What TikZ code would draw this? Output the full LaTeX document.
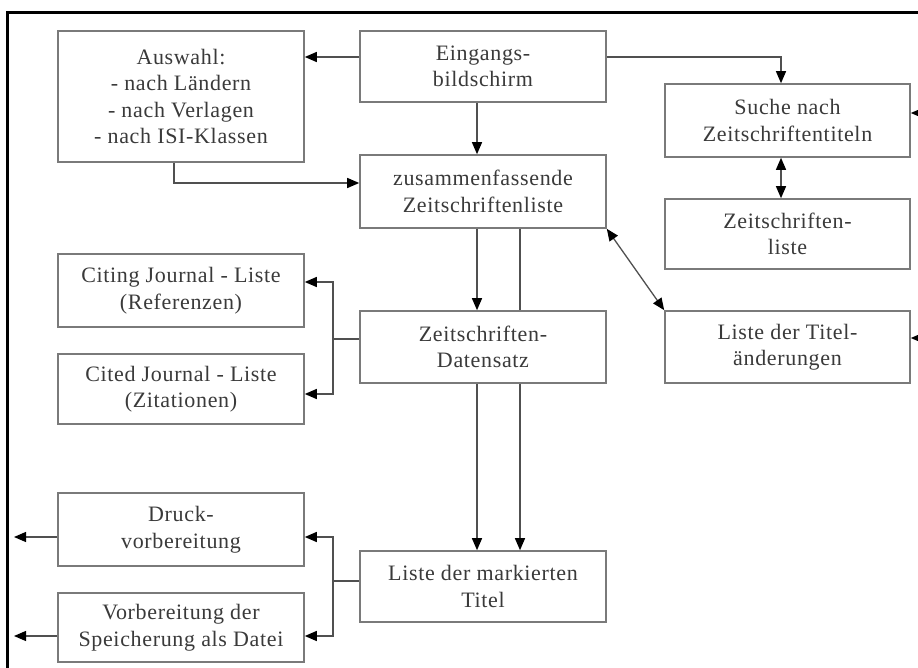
\documentclass[tikz,border=0pt]{standalone}
\usepackage{fontspec}
\setmainfont[LetterSpace=3]{Liberation Serif}
\usetikzlibrary{arrows.meta}
\definecolor{boxc}{HTML}{7A7A7A}
\definecolor{linec}{HTML}{505050}
\definecolor{txtc}{HTML}{3A3A3A}
\begin{document}
\begin{tikzpicture}[x=1pt,y=-1pt,
 box/.style={draw=boxc, line width=1.6pt, fill=white, rectangle, align=center,
   text=txtc, font=\fontsize{22}{26.5}\selectfont, inner sep=0pt},
 sz/.style 2 args={minimum width=#1pt, minimum height=#2pt},
 conn/.style={draw=linec, line width=1.3pt},
 arr/.style={conn, -{Triangle[length=12pt,width=10pt,color=black]}},
 darr/.style={conn, {Triangle[length=12pt,width=10pt,color=black]}-{Triangle[length=12pt,width=10pt,color=black]}}]
\useasboundingbox (0,0) rectangle (918,668);
\fill[white] (0,0) rectangle (918,668);
% frame
\draw[line width=3pt] (7,670) -- (7,13) -- (920,13);

% nodes
\node[box, sz={246}{131}] (aus) at (181,96.5) {Auswahl:\\- nach Ländern\\- nach Verlagen\\- nach ISI-Klassen};
\node[box, sz={246}{71}] (ein) at (483,66.5) {Eingangs-\\bildschirm};
\node[box, sz={246}{73}] (zus) at (483,191.5) {zusammenfassende\\Zeitschriftenliste};
\node[box, sz={245}{73}] (such) at (787.5,120.5) {Suche nach\\Zeitschriftentiteln};
\node[box, sz={245}{70}] (zl) at (787.5,234) {Zeitschriften-\\liste};
\node[box, sz={245}{72}] (tit) at (787.5,347) {Liste der Titel-\\änderungen};
\node[box, sz={246}{72}] (dat) at (483,347) {Zeitschriften-\\Datensatz};
\node[box, sz={246}{73}] (citing) at (181,290.5) {Citing Journal - Liste\\(Referenzen)};
\node[box, sz={246}{70}] (cited) at (181,389) {Cited Journal - Liste\\(Zitationen)};
\node[box, sz={246}{73}] (druck) at (181,529.5) {Druck-\\vorbereitung};
\node[box, sz={246}{69}] (vorb) at (181,627.5) {Vorbereitung der\\Speicherung als Datei};
\node[box, sz={246}{71}] (mark) at (483,586.5) {Liste der markierten\\Titel};

% helper coordinates
\coordinate (r1) at (920,113);
\coordinate (r2) at (920,338);
\coordinate (j1) at (333,339);
\coordinate (j2) at (333,581);
\coordinate (l1) at (14,537);
\coordinate (l2) at (14,636);

% connectors
\draw[arr] ([yshift=9.5pt]ein.west) coordinate (a1) -- (a1 -| aus.east);
\draw[arr] ([yshift=9.5pt]ein.east) -| ([xshift=-6.5pt]such.north);
\draw[arr] ([xshift=-6pt]ein.south) -- ([xshift=-6pt]zus.north);
\draw[arr] ([xshift=-7pt]aus.south) |- ([yshift=8.5pt]zus.west);
\draw[arr] ([xshift=-6pt]zus.south) -- ([xshift=-6pt]dat.north);
\draw[conn] ([xshift=37pt]zus.south) -- ([xshift=37pt]dat.north);
\draw[arr] ([xshift=37pt]dat.south) -- ([xshift=37pt]mark.north);
\draw[arr] ([xshift=-6pt]dat.south) -- ([xshift=-6pt]mark.north);
\draw[darr] ([xshift=-6.5pt]such.south) -- ([xshift=-6.5pt]zl.north);
\draw[darr] (zus.south east) -- (tit.north west);
\draw[arr] (r1) -- ([yshift=7.5pt]such.east);
\draw[arr] (r2) -- ([yshift=9pt]tit.east);
\draw[conn] ([yshift=8pt]dat.west) -- (j1);
\draw[arr] (j1) |- ([yshift=8.5pt]citing.east);
\draw[arr] (j1) |- ([yshift=-5pt]cited.east);
\draw[conn] ([yshift=5.5pt]mark.west) -- (j2);
\draw[arr] (j2) |- ([yshift=-7.5pt]druck.east);
\draw[arr] (j2) |- ([yshift=-8.5pt]vorb.east);
\draw[arr] ([yshift=-7.5pt]druck.west) -- (l1);
\draw[arr] ([yshift=-8.5pt]vorb.west) -- (l2);
\end{tikzpicture}
\end{document}
